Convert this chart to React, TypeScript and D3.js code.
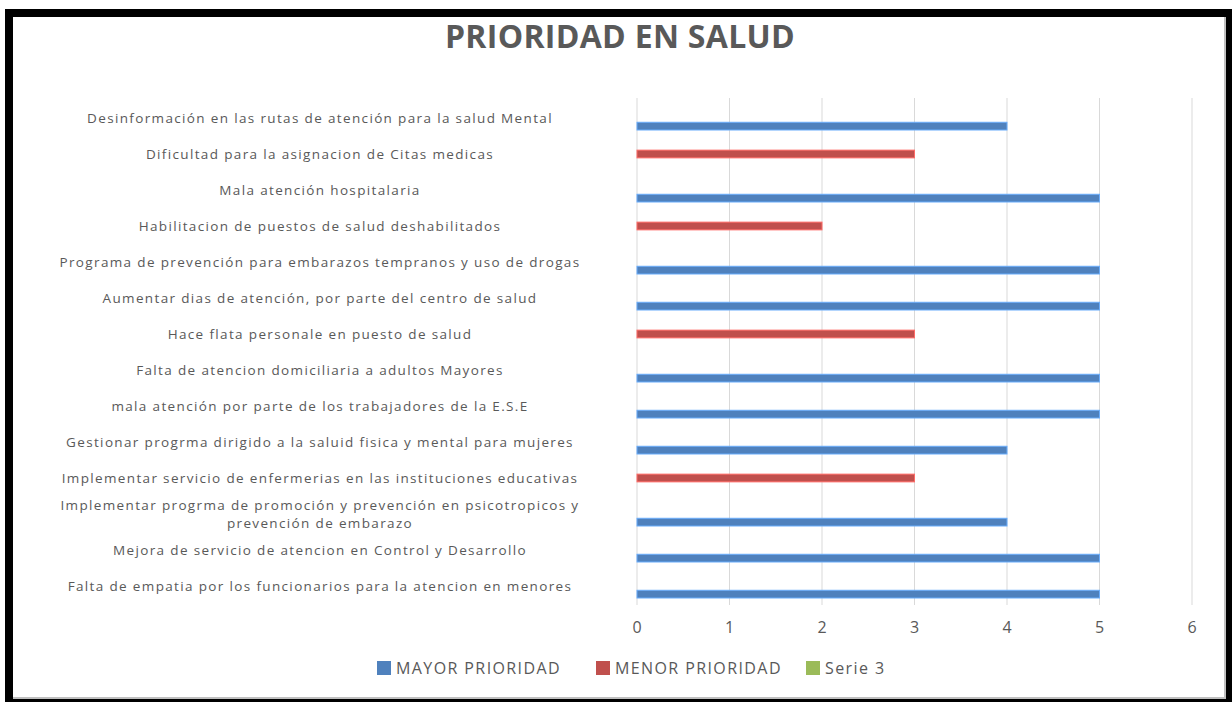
import React, { useEffect, useRef } from 'react'
import * as d3 from 'd3'

const categories = [
    'Desinformación en las rutas de atención para la salud Mental',
    'Dificultad para la asignacion de Citas medicas',
    'Mala atención hospitalaria',
    'Habilitacion de puestos de salud deshabilitados',
    'Programa de prevención para embarazos tempranos y uso de drogas',
    'Aumentar dias de atención, por parte del centro de salud',
    'Hace flata personale en puesto de salud',
    'Falta de atencion domiciliaria a adultos Mayores',
    'mala atención por parte de los trabajadores de la E.S.E',
    'Gestionar progrma dirigido a la saluid fisica y mental para mujeres',
    'Implementar servicio de enfermerias en las instituciones educativas',
    'Implementar progrma de promoción y prevención en psicotropicos y|prevención de embarazo',
    'Mejora de servicio de atencion en Control y Desarrollo',
    'Falta de empatia por los funcionarios para la atencion en menores',
]

const seriesNames = ['MAYOR PRIORIDAD', 'MENOR PRIORIDAD', 'Serie 3']
const seriesColors = ['#4F81BD', '#C0504D', '#9BBB59']

// null = no value for that category
const mayorValues = [4, null, 5, null, 5, 5, null, 5, 5, 4, null, 4, 5, 5]
const menorValues = [null, 3, null, 2, null, null, 3, null, null, null, 3, null, null, null]
const serie3Values = [null, null, null, null, null, null, null, null, null, null, null, null, null, null]

const xTicks = [0, 1, 2, 3, 4, 5, 6]

const W = 1232
const H = 702

export default function App() {
    const svgRef = useRef<SVGSVGElement>(null)

    useEffect(() => {
        if (!svgRef.current) return
        const svg = d3.select(svgRef.current)
        svg.selectAll('*').remove()

        const font = '"Open Sans", "DejaVu Sans", sans-serif'
        const grey = '#595959'

        // frame
        svg.append('rect').attr('x', 5).attr('y', 9).attr('width', W - 5).attr('height', H - 9).attr('fill', '#000')
        svg.append('rect').attr('x', 13).attr('y', 17).attr('width', 1213).attr('height', 682).attr('fill', '#bfbfbf')
        svg.append('rect').attr('x', 13).attr('y', 17).attr('width', 1211).attr('height', 680).attr('fill', '#fff')

        // title
        svg.append('text')
            .attr('x', 620).attr('y', 48)
            .attr('text-anchor', 'middle')
            .style('font-family', font)
            .style('font-weight', 'bold')
            .style('font-size', '32px')
            .style('letter-spacing', '0.3px')
            .style('fill', grey)
            .text('PRIORIDAD EN SALUD')

        const x = d3.scaleLinear().domain([0, 6]).range([637, 1192])
        const y0 = d3.scaleBand().domain(categories).range([100, 604])
        // first series sits lowest in each group (Excel-style)
        const y1 = d3.scaleBand().domain(['Serie 3', 'MENOR PRIORIDAD', 'MAYOR PRIORIDAD']).range([6, 30]).paddingInner(0.05)

        // gridlines
        svg.append('g').selectAll('line')
            .data(xTicks)
            .enter().append('line')
            .attr('x1', d => x(d)).attr('x2', d => x(d))
            .attr('y1', 98).attr('y2', 605)
            .attr('stroke', '#d9d9d9')
            .attr('stroke-width', 1)

        // tick labels
        svg.append('g').selectAll('text')
            .data(xTicks)
            .enter().append('text')
            .attr('x', d => x(d)).attr('y', 633)
            .attr('text-anchor', 'middle')
            .style('font-family', font)
            .style('font-size', '16px')
            .style('fill', grey)
            .text(d => d)

        // category labels
        const labels = svg.append('g').selectAll('text')
            .data(categories)
            .enter().append('text')
            .attr('text-anchor', 'middle')
            .style('font-family', font)
            .style('font-size', '13.5px')
            .style('letter-spacing', '1.35px')
            .style('fill', grey)

        labels.each(function (d) {
            const lines = d.split('|')
            const cy = (y0(d) as number) + y0.bandwidth() / 2
            const t = d3.select(this)
            lines.forEach((ln, i) => {
                t.append('tspan')
                    .attr('x', 320)
                    .attr('y', cy + 4.5 + (i - (lines.length - 1) / 2) * 18)
                    .text(ln)
            })
        })

        // bars
        const allValues = [mayorValues, menorValues, serie3Values]
        allValues.forEach((vals, si) => {
            const name = seriesNames[si]
            const col = seriesColors[si]
            svg.append('g').selectAll('rect')
                .data(categories.map((c, i) => ({ c, v: vals[i] })).filter(d => d.v != null))
                .enter().append('rect')
                .attr('x', x(0))
                .attr('y', d => (y0(d.c) as number) + (y1(name) as number))
                .attr('width', d => x(d.v as number) - x(0))
                .attr('height', y1.bandwidth())
                .attr('fill', col)
                .attr('stroke', d3.color(col)!.brighter(0.8).toString())
                .attr('stroke-width', 1)
        })

        // legend
        const legendItems = [
            { name: seriesNames[0], x: 377 },
            { name: seriesNames[1], x: 596 },
            { name: seriesNames[2], x: 806 },
        ]
        const lg = svg.append('g').selectAll('g')
            .data(legendItems)
            .enter().append('g')
            .attr('transform', d => `translate(${d.x},661)`)
        lg.append('rect')
            .attr('width', 14).attr('height', 14)
            .attr('fill', (d, i) => seriesColors[i])
        lg.append('text')
            .attr('x', 19).attr('y', 13)
            .style('font-family', font)
            .style('font-size', '16px')
            .style('letter-spacing', '1.4px')
            .style('fill', grey)
            .text(d => d.name)
    }, [])

    return (
        <svg ref={svgRef} width={W} height={H} style={{ position: 'absolute', left: 0, top: 0, background: '#fff' }} />
    )
}
